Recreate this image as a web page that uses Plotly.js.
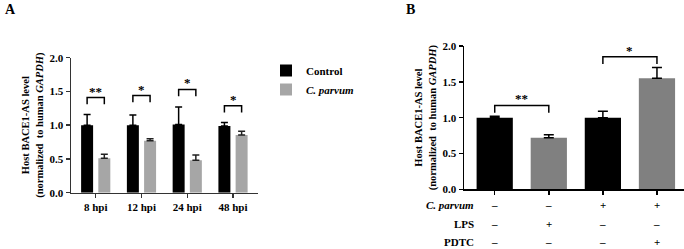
<!DOCTYPE html>
<html>
<head>
<meta charset="utf-8">
<script src="https://cdn.plot.ly/plotly-3.0.1.min.js"></script>
<style>html,body{margin:0;padding:0;background:#fff;}#chart{width:684px;height:249px;}</style>
</head>
<body>
<div id="chart"></div>
<script>
// ---- Panel A data ----
const timepointsA = ['8 hpi', '12 hpi', '24 hpi', '48 hpi'];
const controlA = [1.00, 1.00, 1.01, 0.99];
const controlErrA = [0.16, 0.15, 0.26, 0.05];
const parvumA = [0.51, 0.77, 0.48, 0.855];
const parvumErrA = [0.06, 0.03, 0.08, 0.055];
const sigTextA = ['**', '*', '*', '*'];
const sigLevelA = [1.41, 1.44, 1.53, 1.29];

// ---- Panel B data ----
const conditionsB = ['Control', 'LPS', 'C. parvum', 'C. parvum + PDTC'];
const valuesB = [1.00, 0.72, 1.00, 1.55];
const errB = [0.02, 0.04, 0.09, 0.15];
const colorsB = ['#000000', '#808080', '#000000', '#808080'];
const rowLabelsB = ['<i>C. parvum</i>', 'LPS', 'PDTC'];
const rowParvum = ['–', '–', '+', '+'];
const rowLPS = ['–', '+', '–', '–'];
const rowPDTC = ['–', '–', '–', '+'];
const sigPairsB = [[0, 1], [2, 3]];
const sigTextB = ['**', '*'];
const sigLevelB = [1.17, 1.85];

const FONT = 'Liberation Serif, Times New Roman, serif';
const W = 684, H = 249;
const px = v => v / W;
const py = v => 1 - v / H;

const barW_A = 0.262, offC = -0.319, offP = 0.057;

const traces = [
  {
    type: 'bar', name: 'Control', x: timepointsA, y: controlA,
    xaxis: 'x', yaxis: 'y', width: barW_A, offset: offC,
    marker: {color: '#000000'},
    error_y: {type: 'data', symmetric: false, array: controlErrA, arrayminus: controlA.map(() => 0), color: '#000', thickness: 1.5, width: 3.5}
  },
  {
    type: 'bar', name: '<i>C. parvum</i>', x: timepointsA, y: parvumA,
    xaxis: 'x', yaxis: 'y', width: barW_A, offset: offP,
    marker: {color: '#a6a6a6'},
    error_y: {type: 'data', symmetric: false, array: parvumErrA, arrayminus: parvumA.map(() => 0), color: '#222', thickness: 1.5, width: 3.5}
  },
  {
    type: 'bar', x: conditionsB, y: valuesB, xaxis: 'x2', yaxis: 'y2', width: 0.67,
    showlegend: false, marker: {color: colorsB},
    error_y: {type: 'data', symmetric: false, array: errB, arrayminus: valuesB.map(() => 0), color: '#000', thickness: 1.5, width: 5}
  }
];

const shapes = [];
const annotations = [];
const legUnits = 0.1;

// Panel A brackets
timepointsA.forEach((t, i) => {
  const x0 = i + offC + barW_A / 2;
  const x1 = i + offP + barW_A / 2;
  const yt = sigLevelA[i];
  shapes.push({type: 'path', xref: 'x', yref: 'y',
    path: `M ${x0},${yt - legUnits} L ${x0},${yt} L ${x1},${yt} L ${x1},${yt - legUnits}`,
    line: {color: '#000', width: 1.5}});
  annotations.push({xref: 'x', yref: 'y', x: i + (offC + offP + barW_A) / 2, y: yt, yanchor: 'bottom',
    text: '<b>' + sigTextA[i] + '</b>', showarrow: false, font: {family: FONT, size: 13, color: '#000'}, yshift: -3});
});

// Panel B brackets
sigPairsB.forEach((pair, k) => {
  const yt = sigLevelB[k];
  const [a, b] = pair;
  shapes.push({type: 'path', xref: 'x2', yref: 'y2',
    path: `M ${a},${yt - legUnits} L ${a},${yt} L ${b},${yt} L ${b},${yt - legUnits}`,
    line: {color: '#000', width: 1.5}});
  annotations.push({xref: 'x2', yref: 'y2', x: (a + b) / 2, y: yt, yanchor: 'bottom',
    text: '<b>' + sigTextB[k] + '</b>', showarrow: false, font: {family: FONT, size: 13, color: '#000'}, yshift: -3});
});

// Panel B condition table
const rowY = [205, 224, 241.5];
[rowParvum, rowLPS, rowPDTC].forEach((row, r) => {
  annotations.push({xref: 'paper', yref: 'paper', x: px(476), y: py(rowY[r]), xanchor: 'right', yanchor: 'middle',
    text: '<b>' + rowLabelsB[r] + '</b>', showarrow: false, font: {family: FONT, size: 11, color: '#000'}});
  row.forEach((s, i) => {
    annotations.push({xref: 'x2', yref: 'paper', x: i, y: py(rowY[r]), xanchor: 'center', yanchor: 'middle',
      text: '<b>' + s + '</b>', showarrow: false, font: {family: FONT, size: 11, color: '#000'}});
  });
});

// Panel labels
annotations.push({xref: 'paper', yref: 'paper', x: px(3), y: py(0), xanchor: 'left', yanchor: 'top',
  text: '<b>A</b>', showarrow: false, font: {family: FONT, size: 14, color: '#000'}});
annotations.push({xref: 'paper', yref: 'paper', x: px(404), y: py(0), xanchor: 'left', yanchor: 'top',
  text: '<b>B</b>', showarrow: false, font: {family: FONT, size: 14, color: '#000'}});

const yTitle = 'Host BACE1-AS level<br>(normalized  to human <i>GAPDH</i>)';

const layout = {
  width: W, height: H,
  margin: {l: 0, r: 0, t: 0, b: 0},
  paper_bgcolor: '#fff', plot_bgcolor: '#fff',
  font: {family: FONT, size: 11, color: '#000', weight: 'bold'},
  barmode: 'overlay',
  showlegend: true,
  legend: {x: px(266), y: py(56), xanchor: 'left', yanchor: 'top', bgcolor: 'rgba(0,0,0,0)',
    font: {family: FONT, size: 11, weight: 'bold'}, tracegroupgap: 0, itemwidth: 30},
  xaxis: {domain: [px(71), px(258)], anchor: 'y', type: 'category', range: [-0.54, 3.546],
    showline: true, linecolor: '#333', linewidth: 1.5, ticks: 'outside', ticklen: 4, tickwidth: 1.5, tickcolor: '#333',
    showgrid: false, zeroline: false, tickfont: {family: FONT, size: 11, weight: 'bold'}},
  yaxis: {domain: [py(192.7), py(57.7)], anchor: 'x', range: [0, 2.0], dtick: 0.5, tickformat: '.1f',
    showline: true, linecolor: '#333', linewidth: 1.5, ticks: 'outside', ticklen: 4, tickwidth: 1.5, tickcolor: '#333',
    showgrid: false, zeroline: false, tickfont: {family: FONT, size: 11, weight: 'bold'},
    title: {text: yTitle, font: {family: FONT, size: 10.5, weight: 'bold'}, standoff: 4}},
  xaxis2: {domain: [px(464), px(684)], anchor: 'y2', type: 'category', range: [-0.568, 3.5],
    showline: true, linecolor: '#000', linewidth: 1.5, ticks: 'outside', ticklen: 4, tickwidth: 1.5, tickcolor: '#000',
    showgrid: false, zeroline: false, showticklabels: false},
  yaxis2: {domain: [py(189.3), py(46)], anchor: 'x2', range: [0, 2.0], dtick: 0.5, tickformat: '.1f',
    showline: true, linecolor: '#000', linewidth: 1.5, ticks: 'outside', ticklen: 4, tickwidth: 1.5, tickcolor: '#000',
    showgrid: false, zeroline: false, tickfont: {family: FONT, size: 11, weight: 'bold'},
    title: {text: yTitle, font: {family: FONT, size: 10.5, weight: 'bold'}, standoff: 4}},
  shapes: shapes,
  annotations: annotations
};

Plotly.newPlot('chart', traces, layout, {displayModeBar: false, staticPlot: true});
</script>
</body>
</html>
